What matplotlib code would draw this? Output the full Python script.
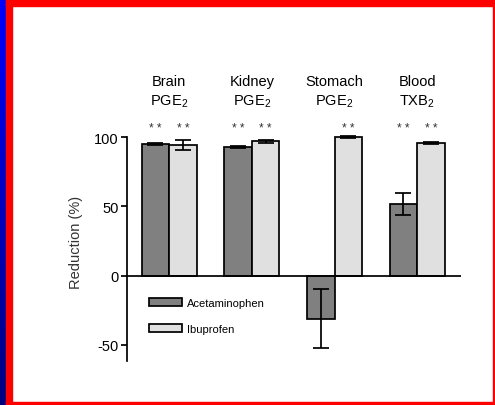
import numpy as np
import matplotlib
matplotlib.use("Agg")
import matplotlib.pyplot as plt
from matplotlib.patches import Rectangle
from matplotlib.colors import LinearSegmentedColormap

plt.rcParams['font.family'] = ['Liberation Sans', 'DejaVu Sans']
plt.rcParams['mathtext.fontset'] = 'custom'
plt.rcParams['mathtext.rm'] = 'Liberation Sans'
plt.rcParams['mathtext.it'] = 'Liberation Sans'
plt.rcParams['axes.unicode_minus'] = False

# ---- data ----
groups_top = ["Brain", "Kidney", "Stomach", "Blood"]
groups_bottom = ["PGE$_2$", "PGE$_2$", "PGE$_2$", "TXB$_2$"]
series = ["Acetaminophen", "Ibuprofen"]
acet_vals = [95.2, 92.8, -31.0, 52.0]
acet_err = [0.8, 0.8, 21.5, 8.0]
ibu_vals = [94.5, 97.1, 100.0, 95.9]
ibu_err = [3.8, 1.0, 0.8, 0.8]
acet_sig = ["* *", "* *", "", "* *"]
ibu_sig = ["* *", "* *", "* *", "* *"]
yticks = [-50, 0, 50, 100]

W, H = 495, 406
fig = plt.figure(figsize=(W / 100, H / 100), dpi=100)
fig.patch.set_facecolor('white')

# frame decoration
grad = np.linspace(0, 1, 256).reshape(-1, 1)
bax = fig.add_axes([0, 0, 6 / W, 1])
cm = LinearSegmentedColormap.from_list('bl', ['#0000ff', '#000080'])
bax.imshow(grad, aspect='auto', cmap=cm, extent=[0, 1, 0, 1], origin='upper')
bax.axis('off')
fig.patches.append(Rectangle((6 / W, 0), 6 / W, 1, transform=fig.transFigure, color='#ff0000', zorder=0))
fig.patches.append(Rectangle((6 / W, 1 - 7 / H), 1, 7 / H, transform=fig.transFigure, color='#ff0000', zorder=0))
fig.patches.append(Rectangle((6 / W, 0), 1, 3 / H, transform=fig.transFigure, color='#ff0000', zorder=0))
fig.patches.append(Rectangle((1 - 2 / W, 0), 2 / W, 1, transform=fig.transFigure, color='#ff0000', zorder=0))

# main axes
ax = fig.add_axes([127 / W, (H - 361.7) / H, 334 / W, 244.2 / H])
ymin, ymax = -61.4, 115
ax.set_ylim(ymin, ymax)
x = np.arange(len(groups_top))
bw = 0.333
ax.set_xlim(-0.51, 3.53)

lw = 1.25
ax.bar(x - bw / 2, acet_vals, width=bw, color='#808080', edgecolor='black', linewidth=lw,
       label=series[0], zorder=2)
ax.bar(x + bw / 2, ibu_vals, width=bw, color='#e0e0e0', edgecolor='black', linewidth=lw,
       label=series[1], zorder=2)
ax.errorbar(x - bw / 2, acet_vals, yerr=acet_err, fmt='none', ecolor='black', elinewidth=lw,
            capsize=5.5, capthick=lw, zorder=3)
ax.errorbar(x + bw / 2, ibu_vals, yerr=ibu_err, fmt='none', ecolor='black', elinewidth=lw,
            capsize=5.5, capthick=lw, zorder=3)

for i in range(len(x)):
    ax.text(x[i] - bw / 2, 104.5, acet_sig[i], ha='center', va='baseline', fontsize=8.5, color='#333333')
    ax.text(x[i] + bw / 2, 104.5, ibu_sig[i], ha='center', va='baseline', fontsize=8.5, color='#333333')
    ax.text(x[i], 137.8, groups_top[i], ha='center', va='baseline', fontsize=10.5, clip_on=False)
    ax.text(x[i], 123.3, groups_bottom[i], ha='center', va='baseline', fontsize=10.5, clip_on=False)

ax.axhline(0, color='black', linewidth=lw, zorder=4)
for s in ['top', 'right', 'bottom']:
    ax.spines[s].set_visible(False)
ax.spines['left'].set_linewidth(lw)
ax.spines['left'].set_bounds(ymin, 100)
ax.set_xticks([])
ax.set_yticks(yticks)
ax.tick_params(axis='y', length=4.3, width=lw, pad=1.5, labelsize=10.5)
ax.set_ylabel("Reduction (%)", fontsize=10.5, color='#333333')
ax.yaxis.set_label_coords(-0.132, 0.49)
ax.patch.set_alpha(0)

ax.legend(loc='upper left', bbox_to_anchor=(0.066, 0.258), frameon=False, fontsize=8,
          handlelength=3.0, handleheight=0.7, handletextpad=0.45, labelspacing=1.45,
          borderpad=0, borderaxespad=0)

fig.savefig("out.png", dpi=100)
